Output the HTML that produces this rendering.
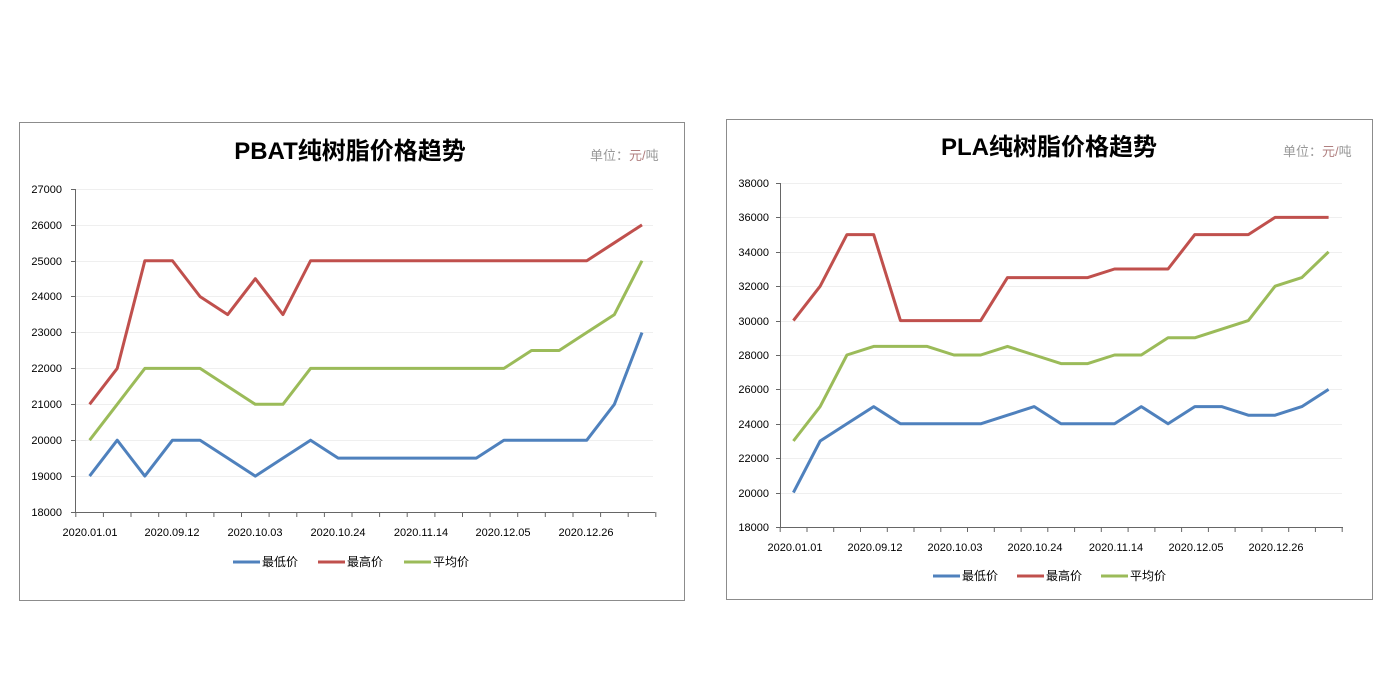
<!DOCTYPE html>
<html><head><meta charset="utf-8"><style>
html,body{margin:0;padding:0;background:#fff}
svg{display:block}
text{font-family:"Liberation Sans","Noto Sans CJK SC",sans-serif}
</style></head><body>
<svg width="1400" height="700" xmlns="http://www.w3.org/2000/svg">
<rect x="19.5" y="122.5" width="665" height="478" fill="#fff" stroke="#8c8c8c"/>
<rect x="726.5" y="119.5" width="646" height="480" fill="#fff" stroke="#8c8c8c"/>

<!-- Chart 1 -->
<text x="350" y="159" font-size="24" font-weight="bold" text-anchor="middle" font-family="Liberation Sans, Noto Sans CJK SC, sans-serif">PBAT纯树脂价格趋势</text>
<text x="590" y="160" font-size="13" fill="#999">单位：<tspan fill="#b08080">元/</tspan><tspan fill="#999">吨</tspan></text>
<g stroke="#efefef" stroke-width="1">
<line x1="76" x2="653" y1="189.5" y2="189.5"/><line x1="76" x2="653" y1="225.5" y2="225.5"/><line x1="76" x2="653" y1="261.5" y2="261.5"/><line x1="76" x2="653" y1="296.5" y2="296.5"/><line x1="76" x2="653" y1="332.5" y2="332.5"/><line x1="76" x2="653" y1="368.5" y2="368.5"/><line x1="76" x2="653" y1="404.5" y2="404.5"/><line x1="76" x2="653" y1="440.5" y2="440.5"/><line x1="76" x2="653" y1="476.5" y2="476.5"/>
</g>
<g stroke="#666" stroke-width="1">
<line x1="75.5" y1="189" x2="75.5" y2="512"/><line x1="71" y1="512.5" x2="655" y2="512.5"/>
<line x1="71" x2="75" y1="189.5" y2="189.5"/><line x1="71" x2="75" y1="225.5" y2="225.5"/><line x1="71" x2="75" y1="261.5" y2="261.5"/><line x1="71" x2="75" y1="296.5" y2="296.5"/><line x1="71" x2="75" y1="332.5" y2="332.5"/><line x1="71" x2="75" y1="368.5" y2="368.5"/><line x1="71" x2="75" y1="404.5" y2="404.5"/><line x1="71" x2="75" y1="440.5" y2="440.5"/><line x1="71" x2="75" y1="476.5" y2="476.5"/>
<path d="M75.8 512v5M103.4 512v5M131 512v5M158.7 512v5M186.3 512v5M213.9 512v5M241.5 512v5M269.1 512v5M296.8 512v5M324.4 512v5M352 512v5M379.6 512v5M407.2 512v5M434.9 512v5M462.5 512v5M490.1 512v5M517.7 512v5M545.3 512v5M573 512v5M600.6 512v5M628.2 512v5M655.8 512v5"/>
</g>
<g font-size="11" text-anchor="end">
<text x="62" y="193">27000</text><text x="62" y="229">26000</text><text x="62" y="265">25000</text><text x="62" y="300">24000</text><text x="62" y="336">23000</text><text x="62" y="372">22000</text><text x="62" y="408">21000</text><text x="62" y="444">20000</text><text x="62" y="480">19000</text><text x="62" y="516">18000</text>
</g>
<g font-size="11" text-anchor="middle">
<text x="90" y="536">2020.01.01</text><text x="172" y="536">2020.09.12</text><text x="255" y="536">2020.10.03</text><text x="338" y="536">2020.10.24</text><text x="421" y="536">2020.11.14</text><text x="503" y="536">2020.12.05</text><text x="586" y="536">2020.12.26</text>
</g>
<g fill="none" stroke-width="3" stroke-linejoin="round" transform="matrix(27.62 0 0 -0.03589 89.6 1158)">
<polyline vector-effect="non-scaling-stroke" stroke="#c0504d" points="0,21000 1,22000 2,25000 3,25000 4,24000 5,23500 6,24500 7,23500 8,25000 9,25000 10,25000 11,25000 12,25000 13,25000 14,25000 15,25000 16,25000 17,25000 18,25000 19,25500 20,26000"/>
<polyline vector-effect="non-scaling-stroke" stroke="#9bbb59" points="0,20000 1,21000 2,22000 3,22000 4,22000 5,21500 6,21000 7,21000 8,22000 9,22000 10,22000 11,22000 12,22000 13,22000 14,22000 15,22000 16,22500 17,22500 18,23000 19,23500 20,25000"/>
<polyline vector-effect="non-scaling-stroke" stroke="#4f81bd" points="0,19000 1,20000 2,19000 3,20000 4,20000 5,19500 6,19000 7,19500 8,20000 9,19500 10,19500 11,19500 12,19500 13,19500 14,19500 15,20000 16,20000 17,20000 18,20000 19,21000 20,23000"/>
</g>
<g font-size="12">
<line x1="233" x2="260" y1="562" y2="562" stroke="#4f81bd" stroke-width="3"/><text x="262" y="566">最低价</text>
<line x1="318" x2="345" y1="562" y2="562" stroke="#c0504d" stroke-width="3"/><text x="347" y="566">最高价</text>
<line x1="404" x2="431" y1="562" y2="562" stroke="#9bbb59" stroke-width="3"/><text x="433" y="566">平均价</text>
</g>

<!-- Chart 2 -->
<text x="1049" y="155" font-size="24" font-weight="bold" text-anchor="middle">PLA纯树脂价格趋势</text>
<text x="1283" y="156" font-size="13" fill="#999">单位：<tspan fill="#b08080">元/</tspan><tspan fill="#999">吨</tspan></text>
<g stroke="#efefef" stroke-width="1">
<line x1="781" x2="1342" y1="183.5" y2="183.5"/><line x1="781" x2="1342" y1="217.5" y2="217.5"/><line x1="781" x2="1342" y1="252.5" y2="252.5"/><line x1="781" x2="1342" y1="286.5" y2="286.5"/><line x1="781" x2="1342" y1="321.5" y2="321.5"/><line x1="781" x2="1342" y1="355.5" y2="355.5"/><line x1="781" x2="1342" y1="389.5" y2="389.5"/><line x1="781" x2="1342" y1="424.5" y2="424.5"/><line x1="781" x2="1342" y1="458.5" y2="458.5"/><line x1="781" x2="1342" y1="493.5" y2="493.5"/>
</g>
<g stroke="#666" stroke-width="1">
<line x1="780.5" y1="183" x2="780.5" y2="527"/><line x1="776" y1="527.5" x2="1343" y2="527.5"/>
<path d="M776 183.5h4M776 217.5h4M776 252.5h4M776 286.5h4M776 321.5h4M776 355.5h4M776 389.5h4M776 424.5h4M776 458.5h4M776 493.5h4"/>
<path d="M780.2 527v5M807 527v5M833.7 527v5M860.5 527v5M887.3 527v5M914 527v5M940.8 527v5M967.5 527v5M994.3 527v5M1021.1 527v5M1047.8 527v5M1074.6 527v5M1101.3 527v5M1128.1 527v5M1154.9 527v5M1181.6 527v5M1208.4 527v5M1235.1 527v5M1261.9 527v5M1288.7 527v5M1315.4 527v5M1342.2 527v5"/>
</g>
<g font-size="11" text-anchor="end">
<text x="769" y="187">38000</text><text x="769" y="221">36000</text><text x="769" y="256">34000</text><text x="769" y="290">32000</text><text x="769" y="325">30000</text><text x="769" y="359">28000</text><text x="769" y="393">26000</text><text x="769" y="428">24000</text><text x="769" y="462">22000</text><text x="769" y="497">20000</text><text x="769" y="531">18000</text>
</g>
<g font-size="11" text-anchor="middle">
<text x="795" y="551">2020.01.01</text><text x="875" y="551">2020.09.12</text><text x="955" y="551">2020.10.03</text><text x="1035" y="551">2020.10.24</text><text x="1116" y="551">2020.11.14</text><text x="1196" y="551">2020.12.05</text><text x="1276" y="551">2020.12.26</text>
</g>
<g fill="none" stroke-width="3" stroke-linejoin="round" transform="matrix(26.76 0 0 -0.0172 793.4 836.6)">
<polyline vector-effect="non-scaling-stroke" stroke="#c0504d" points="0,30000 1,32000 2,35000 3,35000 4,30000 5,30000 6,30000 7,30000 8,32500 9,32500 10,32500 11,32500 12,33000 13,33000 14,33000 15,35000 16,35000 17,35000 18,36000 19,36000 20,36000"/>
<polyline vector-effect="non-scaling-stroke" stroke="#9bbb59" points="0,23000 1,25000 2,28000 3,28500 4,28500 5,28500 6,28000 7,28000 8,28500 9,28000 10,27500 11,27500 12,28000 13,28000 14,29000 15,29000 16,29500 17,30000 18,32000 19,32500 20,34000"/>
<polyline vector-effect="non-scaling-stroke" stroke="#4f81bd" points="0,20000 1,23000 2,24000 3,25000 4,24000 5,24000 6,24000 7,24000 8,24500 9,25000 10,24000 11,24000 12,24000 13,25000 14,24000 15,25000 16,25000 17,24500 18,24500 19,25000 20,26000"/>
</g>
<g font-size="12">
<line x1="933" x2="960" y1="576" y2="576" stroke="#4f81bd" stroke-width="3"/><text x="962" y="580">最低价</text>
<line x1="1017" x2="1044" y1="576" y2="576" stroke="#c0504d" stroke-width="3"/><text x="1046" y="580">最高价</text>
<line x1="1101" x2="1128" y1="576" y2="576" stroke="#9bbb59" stroke-width="3"/><text x="1130" y="580">平均价</text>
</g>
</svg>
</body></html>
